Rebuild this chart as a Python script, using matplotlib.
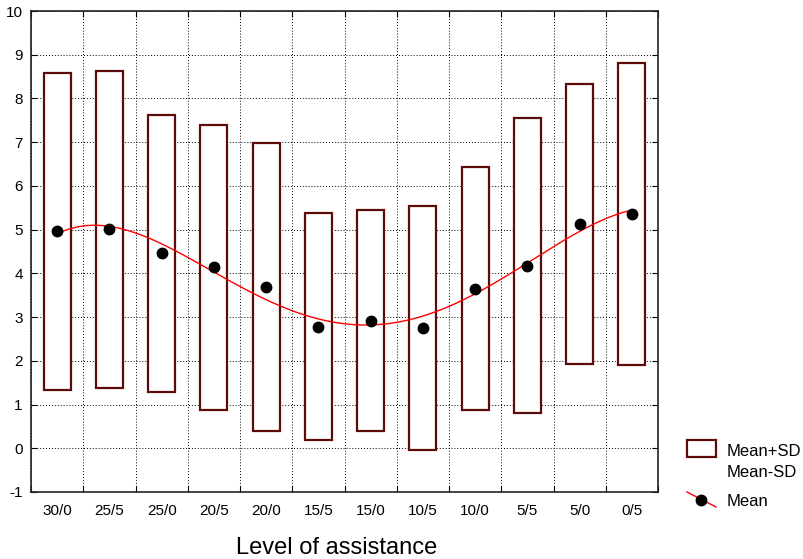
"""
Mean +/- SD boxes by level of assistance, with a smoothed mean curve.
"""

import numpy as np
import matplotlib
matplotlib.use("Agg")
import matplotlib.pyplot as plt
from matplotlib.patches import Rectangle
from matplotlib.lines import Line2D

plt.rcParams["font.family"] = ["Liberation Sans", "DejaVu Sans"]
plt.rcParams["axes.unicode_minus"] = False

levels = ["30/0", "25/5", "25/0", "20/5", "20/0", "15/5",
          "15/0", "10/5", "10/0", "5/5", "5/0", "0/5"]
mean_vals = [4.97, 5.02, 4.47, 4.14, 3.69, 2.78,
             2.92, 2.75, 3.65, 4.17, 5.14, 5.36]
upper_vals = [8.58, 8.63, 7.63, 7.39, 6.97, 5.37,
              5.45, 5.55, 6.44, 7.55, 8.32, 8.82]
lower_vals = [1.33, 1.37, 1.28, 0.88, 0.40, 0.18,
              0.40, -0.05, 0.87, 0.80, 1.93, 1.91]

BOX_COLOR = "#5c0a0a"
W, H = 804, 559

fig = plt.figure(figsize=(W / 100, H / 100), dpi=100, facecolor="white")
ax = fig.add_axes([0.0386, 0.1199, 0.7798, 0.8604])

x = np.arange(1, len(levels) + 1)
box_w = 0.52

# ── SD boxes ────────────────────────────────────────────────────────────────
for xi, lo, hi in zip(x, lower_vals, upper_vals):
    ax.add_patch(Rectangle((xi - box_w / 2, lo), box_w, hi - lo,
                           facecolor="white", edgecolor=BOX_COLOR,
                           linewidth=1.6, zorder=3))

# ── smoothed mean curve (polynomial fit of the means) ───────────────────────
coef = np.polyfit(x, mean_vals, 4)
xs = np.linspace(x[0], x[-1], 300)
ax.plot(xs, np.polyval(coef, xs), color="red", linewidth=1.0, zorder=4)
ax.plot(x, mean_vals, "o", color="black", markersize=7.5, zorder=5)

# ── axes styling ────────────────────────────────────────────────────────────
ax.set_xlim(0.5, len(levels) + 0.5)
ax.set_ylim(-1, 10)
ax.set_yticks(range(-1, 11))
ax.set_xticks(np.arange(0.5, len(levels) + 1, 1.0))
ax.set_xticklabels([])
ax.set_xticks(x, minor=True)
ax.set_xticklabels(levels, minor=True)
ax.tick_params(axis="x", which="minor", length=0, pad=9, labelsize=11)
ax.tick_params(axis="x", which="major", direction="in", length=4,
               top=True)
ax.tick_params(axis="y", direction="in", length=4, right=True,
               labelsize=11, pad=6)
ax.grid(True, which="major", color="black", linestyle=(0, (1, 2)),
        linewidth=0.7)
for s in ax.spines.values():
    s.set_linewidth(1.2)
    s.set_color("#222222")

fig.text(336.5 / W, 1 - 554 / H, "Level of assistance", fontsize=17,
         ha="center", va="baseline")

# ── legend (drawn by hand, as in the original) ──────────────────────────────
fig.patches.append(Rectangle((687 / W, 1 - 457 / H), 29 / W, 17 / H,
                             transform=fig.transFigure, facecolor="white",
                             edgecolor=BOX_COLOR, linewidth=1.6))
fig.lines.append(Line2D([687 / W, 716 / W], [1 - 492 / H, 1 - 507 / H],
                        transform=fig.transFigure, color="red",
                        linewidth=1.0))
fig.lines.append(Line2D([701.5 / W], [1 - 499.5 / H], marker="o",
                        markersize=7.5, color="black",
                        transform=fig.transFigure))
fig.text(727 / W, 1 - 456 / H, "Mean+SD", fontsize=12, va="baseline")
fig.text(727 / W, 1 - 477 / H, "Mean-SD", fontsize=12, va="baseline")
fig.text(727 / W, 1 - 506 / H, "Mean", fontsize=12, va="baseline")

fig.savefig("out.png", dpi=100, facecolor="white")
